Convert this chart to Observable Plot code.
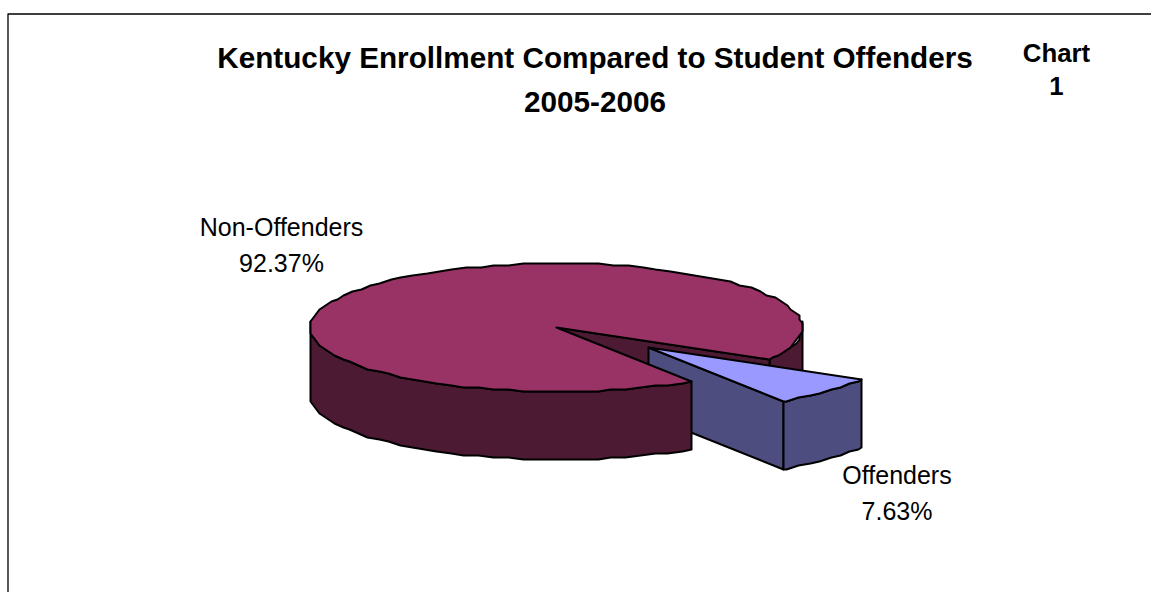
<!DOCTYPE html>
<html><head><meta charset="utf-8">
<script src="https://cdn.jsdelivr.net/npm/d3@7"></script>
<script src="https://cdn.jsdelivr.net/npm/@observablehq/plot@0.6"></script>
<style>html,body{margin:0;padding:0;background:#fff}svg{display:block}</style>
</head><body><div id="chart"></div>
<script>
const categories = ["Non-Offenders", "Offenders"];
const shares = [92.37, 7.63];
const shareLabels = ["92.37%", "7.63%"];
const titleLines = ["Kentucky Enrollment Compared to Student Offenders", "2005-2006"];
const chartTag = ["Chart", "1"];

// pie geometry, in pie-radius units (x) and squashed radius units (y)
const W = 1151, H = 592, cx = 556, cy = 327, rx = 246, ry = 64;
const depth = 68 / ry, start = 29.5, step = 3.5, gridX = 3, gridY = 2;
const explode = [92 / rx, 20 / ry];
const sweep = shares[1] / d3.sum(shares) * 360;
const end = start + sweep;

// the reference's outline sits on a coarse device grid, which gives its rim small kinks
const snapX = v => Math.round(v * rx / gridX) * gridX / rx;
const snapY = v => Math.round(v * ry / gridY) * gridY / ry;
const pt = (a, ox = 0, oy = 0) => [snapX(Math.cos(a * Math.PI / 180)) + ox, snapY(Math.sin(a * Math.PI / 180)) + oy];
// every arc samples the same angles, so top and wall edges coincide
const arc = (a0, a1, ox = 0, oy = 0) => {
  const inner = d3.range(Math.floor(a0 / step) + 1, Math.ceil(a1 / step)).map(k => k * step);
  return [a0, ...inner, a1].map(a => pt(a, ox, oy));
};
const drop = pts => pts.map(([x, y]) => [x, y + depth]);
const wall = pts => [...pts, ...drop(pts).reverse()];

const MAROON = "#993366", MAROON_DK = "#4d1a33", BLUE = "#9999ff", BLUE_DK = "#4d4d80";
const [ex, ey] = explode;

const polys = [
  // main slice: back rim wall and inner cut wall
  {f: MAROON_DK, p: wall(arc(-6, start))},
  {f: MAROON_DK, p: wall([[0, 0], pt(start)])},
  // offenders slice
  {f: BLUE_DK, p: wall([[ex, ey], pt(end, ex, ey)])},
  {f: BLUE_DK, p: wall(arc(start, end, ex, ey))},
  {f: BLUE, p: [[ex, ey], ...arc(start, end, ex, ey)]},
  // main slice: front wall and top
  {f: MAROON_DK, p: wall(arc(end, 186))},
  {f: MAROON, p: [[0, 0], ...arc(end, 360 + start)]}
];
const rows = polys.flatMap(({f, p}, id) => [...p, p[0]].map(([x, y]) => ({id, f, x, y})));

const x = d3.scaleLinear().domain([0, W]).range([-cx / rx, (W - cx) / rx]);
const y = d3.scaleLinear().domain([0, H]).range([-cy / ry, (H - cy) / ry]);
const px = v => x(v), py = v => y(v);

const text = (lines, xp, yp, size, weight, gap) => Plot.text(lines, {
  x: () => px(xp), y: (d, i) => py(yp + i * gap), text: d => d,
  fontSize: size, fontWeight: weight, fill: "#000", textAnchor: "middle", lineAnchor: "middle"
});

const frame = [[7.5, 592], [7.5, 13.5], [1151, 13.5]].map(([a, b]) => ({x: px(a), y: py(b)}));

document.getElementById("chart").append(Plot.plot({
  width: W, height: H, margin: 0,
  style: {fontFamily: "'Liberation Sans', Arial, sans-serif", background: "#fff"},
  x: {domain: [px(0), px(W)], range: [0, W], axis: null},
  y: {domain: [py(0), py(H)], range: [0, H], axis: null},
  marks: [
    Plot.line(frame, {x: "x", y: "y", stroke: "#000", strokeWidth: 1.3}),
    Plot.line(rows, {x: "x", y: "y", z: "id", fill: "f", stroke: "#000", strokeWidth: 2, strokeLinejoin: "round", curve: "linear"}),
    text(titleLines, 594.5, 58, 29.7, 700, 44),
    text(chartTag, 1056, 53, 25.8, 700, 33),
    text([categories[0], shareLabels[0]], 281, 227, 25, 400, 36),
    text([categories[1], shareLabels[1]], 896.5, 475, 25, 400, 36)
  ]
}));
</script></body></html>
